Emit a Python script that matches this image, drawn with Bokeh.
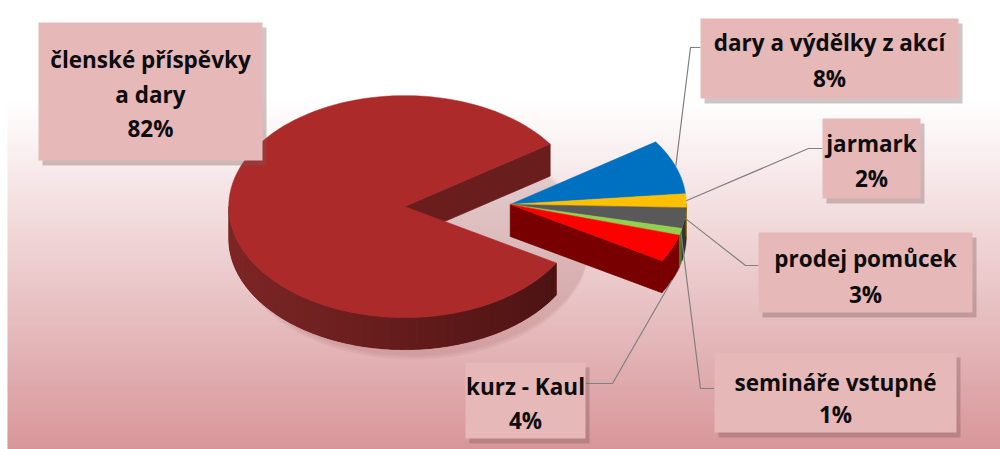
import numpy as np
from bokeh.plotting import figure
from bokeh.models import Range1d
from bokeh.embed import file_html
from bokeh.resources import INLINE
from bokeh.core.properties import value

# ---------------- data (clockwise order, starting at the top of the small group)
categories = ["dary a výdělky z akcí", "jarmark", "prodej pomůcek",
              "semináře vstupné", "kurz - Kaul", "členské příspěvky a dary"]
shares = [8, 2, 3, 1, 4, 82]
label_lines = [["dary a výdělky z akcí"], ["jarmark"], ["prodej pomůcek"],
               ["semináře vstupné"], ["kurz - Kaul"], ["členské příspěvky", "a dary"]]

# ---------------- styles / layout
top_colors = ["#0070c0", "#ffc000", "#595959", "#92d050", "#ff0000", "#ad2a2a"]
side_colors = ["#004a80", "#a07800", "#333333", "#4f7a2a", "#780000", "#6a1d1d"]
CX, CY = 457.0, 205.0
RX, RY, DEPTH = 176.0, 111.0, 32.0
START = 34.3      # degrees, start of first slice (clockwise)
EXPLODE = 0.30

# label boxes: (left, right, top, bottom), text center x, line ys
boxes = [
    (700, 958, 18, 98, 829, [42, 78]),
    (822, 920, 118, 198, 871, [143, 178]),
    (758, 972, 232, 312, 865, [258, 294]),
    (714, 956, 352, 432, 835, [382, 414]),
    (465, 585, 362, 438, 525, [386, 420]),
    (38, 262, 22, 160, 150, [59, 94, 128]),
]
# leader elbow + box attach point
leaders = [((690, 47), (700, 47)), ((808, 148), (822, 148)), ((745, 265), (758, 265)),
           ((700, 388), (714, 388)), ((612, 383), (585, 383)), None]

p = figure(width=1000, height=449, x_range=Range1d(0, 1000), y_range=Range1d(449, 0),
           output_backend="svg", toolbar_location=None, min_border=0)
p.axis.visible = False
p.grid.visible = False
p.outline_line_color = None
p.background_fill_color = "white"
p.border_fill_color = "white"

# ---------------- background gradient
ys = np.arange(0, 449, 3)
c0 = np.array([255, 255, 255]); c1 = np.array([216, 150, 153])
bg_cols = []
for y in ys:
    t = np.clip((y - 100) / (449 - 100), 0, 1)
    c = (c0 * (1 - t) + c1 * t).astype(int)
    bg_cols.append("#%02x%02x%02x" % tuple(c))
p.quad(left=7, right=1000, top=ys, bottom=ys + 3.5, fill_color=bg_cols, line_color=None)

# ---------------- pie geometry
vals = np.array(shares, dtype=float)
spans = vals / vals.sum() * 360.0
ends = START - np.cumsum(spans)
starts = ends + spans
n_small = len(vals) - 1
group_mid = np.radians((starts[0] + ends[n_small - 1]) / 2)
main_mid = np.radians((starts[-1] + ends[-1]) / 2)


def offset(mid):
    return CX + EXPLODE * RX * np.cos(mid), CY - EXPLODE * RY * np.sin(mid)


def arc(cx, cy, a0, a1, n=60):
    t = np.radians(np.linspace(a0, a1, n))
    return cx + RX * np.cos(t), cy - RY * np.sin(t)


def lerp_hex(h0, h1, t):
    a = np.array([int(h0[i:i + 2], 16) for i in (1, 3, 5)])
    b = np.array([int(h1[i:i + 2], 16) for i in (1, 3, 5)])
    c = (a * (1 - t) + b * t).astype(int)
    return "#%02x%02x%02x" % tuple(c)


def radial_faces(cx, cy, a_lo, a_hi, color):
    xs, ys_ = [], []
    for a, side in ((a_lo, "lo"), (a_hi, "hi")):
        r = np.radians(a)
        ny = -np.cos(r) if side == "lo" else np.cos(r)
        if ny < 0:
            ex, ey = cx + RX * np.cos(r), cy - RY * np.sin(r)
            xs.append([cx, ex, ex, cx]); ys_.append([cy, ey, ey + DEPTH, cy + DEPTH])
    if xs:
        p.patches(xs, ys_, fill_color=color, line_color=color, line_width=0.8)


def outer_side(cx, cy, a_lo, a_hi, color, shade):
    segs = []
    for k in range(-1, 2):
        s0 = max(a_lo, 180 + 360 * k); s1 = min(a_hi, 360 + 360 * k)
        if s1 > s0:
            segs.append((s0, s1))
    for s0, s1 in segs:
        ax, ay = arc(cx, cy, s0, s1, 80)
        p.patch(list(ax) + list(ax[::-1]), list(ay) + list(ay[::-1] + DEPTH),
                fill_color=color, line_color=color, line_width=0.6)
        if shade:
            nstrip = max(2, int((s1 - s0) / 3))
            edges = np.linspace(s0, s1, nstrip + 1)
            xs, ys_, cols = [], [], []
            for i in range(nstrip):
                e0 = edges[i]; e1 = min(s1, edges[i + 1] + 1.2)
                ax, ay = arc(cx, cy, e0, e1, 5)
                xs.append(list(ax) + list(ax[::-1]))
                ys_.append(list(ay) + list(ay[::-1] + DEPTH))
                tm = (np.cos(np.radians((edges[i] + edges[i + 1]) / 2)) + 1) / 2
                cols.append(lerp_hex("#4a1212", "#7e2626", 1 - tm))
            p.patches(xs, ys_, fill_color=cols, line_color=None)


def draw_top(cx, cy, a_lo, a_hi, color):
    ax, ay = arc(cx, cy, a_hi, a_lo, 120)
    p.patch([cx] + list(ax), [cy] + list(ay), fill_color=color, line_color=color, line_width=0.5)


# soft shadow under main pie
mx, my = offset(main_mid)
for k in range(3):
    sx, sy = arc(mx + 8, my + DEPTH + 6, 0, 360, 120)
    p.patch(list(sx), list(sy + 2 * k), fill_color="#7a3030", fill_alpha=0.05, line_color=None)

# main slice
radial_faces(mx, my, ends[-1], starts[-1], "#6a1d1d")
outer_side(mx, my, ends[-1], starts[-1], side_colors[-1], True)
draw_top(mx, my, ends[-1], starts[-1], top_colors[-1])

# small group
gx, gy = offset(group_mid)
radial_faces(gx, gy, ends[n_small - 1], starts[0], side_colors[n_small - 1])
for i in range(n_small - 1, -1, -1):
    outer_side(gx, gy, ends[i], starts[i], side_colors[i], False)
for i in range(n_small):
    draw_top(gx, gy, ends[i], starts[i], top_colors[i])

# ---------------- leader lines
for i in range(n_small):
    r = np.radians((starts[i] + ends[i]) / 2)
    ax_, ay_ = gx + RX * np.cos(r), gy - RY * np.sin(r)
    if i == 4:
        ay_ += DEPTH
    (ex, ey), (bx, by) = leaders[i]
    p.line([ax_, ex, bx], [ay_, ey, by], line_color="#808080", line_width=1.2)

# ---------------- label boxes
for i, (l, r_, t, b, tx, lys) in enumerate(boxes):
    p.quad(left=l + 4, right=r_ + 4, top=t + 5, bottom=b + 5, fill_color="#7a5555",
           fill_alpha=0.35, line_color=None)
    p.quad(left=l, right=r_, top=t, bottom=b, fill_color="#e6b8b8", line_color=None)
    texts = label_lines[i] + ["%d%%" % shares[i]]
    p.text(x=[tx] * len(texts), y=lys, text=texts, text_align="center",
           text_baseline="middle", text_font=value("Open Sans"), text_font_style="bold",
           text_font_size="22.5px", text_color="#0d0d0d")

open("out.html", "w").write(file_html(p, INLINE))
